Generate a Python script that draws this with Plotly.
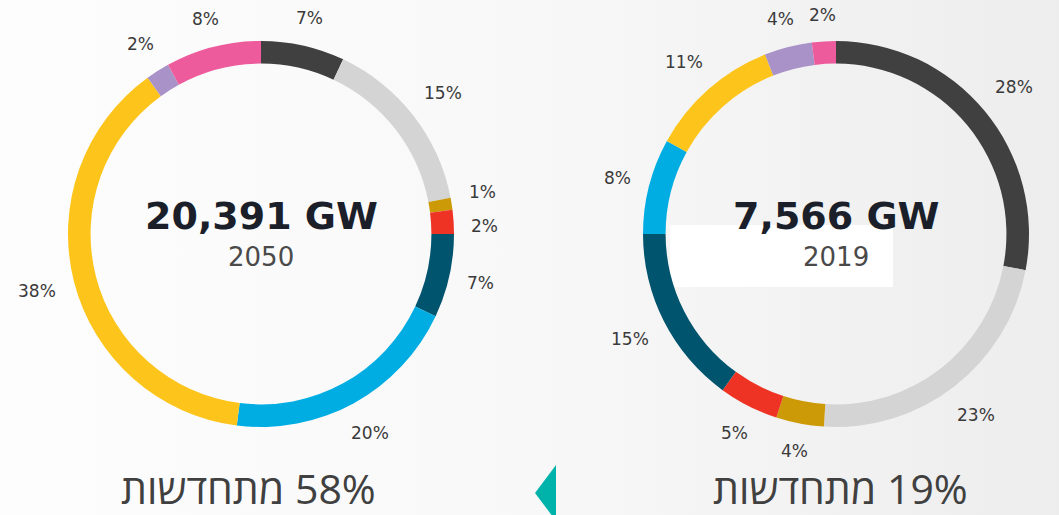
import math
import base64
import plotly.graph_objects as go

# ---------------- data ----------------
categories = ["Coal", "Natural gas", "Oil", "Nuclear", "Hydropower",
              "Wind", "Solar", "Bioenergy", "Other"]
colors = ["#404040", "#d4d4d4", "#cc9a06", "#ee3224", "#00546e",
          "#00ade3", "#fdc51b", "#a992c8", "#ee5b9c"]
values_2050 = [7, 15, 1, 2, 7, 20, 38, 2, 8]
values_2019 = [28, 23, 4, 5, 15, 8, 11, 4, 2]
totals = ["20,391 GW", "7,566 GW"]
years = ["2050", "2019"]
renewable_share = ["58%", "19%"]
renewable_word = "מתחדשות"

# ---------------- layout geometry (pixels) ----------------
W, H = 1059, 515
R = 193
centers = [(261, 234), (836, 234)]
HOLE = 0.883


def px(x):
    return x / W


def py(y):
    return 1 - y / H


fig = go.Figure()
annotations = []

for (cx, cy), vals, tot, yr in zip(centers, [values_2050, values_2019], totals, years):
    fig.add_trace(go.Pie(
        labels=categories, values=vals, sort=False, direction="clockwise",
        rotation=0, hole=HOLE, textinfo="none",
        marker=dict(colors=colors, line=dict(width=0)),
        domain=dict(x=[px(cx - R), px(cx + R)], y=[py(cy + R), py(cy - R)]),
        showlegend=False,
    ))
    # percentage labels outside the ring
    total = sum(vals)
    cum = 0
    pts = []
    for v in vals:
        th = 2 * math.pi * (cum + v / 2) / total
        cum += v
        txt = f"{v}%"
        w = 12.5 * len(txt)
        h = 16
        r = R + 18 + abs(math.sin(th)) * w / 2 + abs(math.cos(th)) * h / 2
        pts.append([cx + r * math.sin(th), cy - r * math.cos(th), txt])
    # simple collision avoidance: push consecutive labels apart vertically
    for i in range(1, len(pts)):
        a, b = pts[i - 1], pts[i]
        if abs(a[0] - b[0]) < 40 and abs(a[1] - b[1]) < 34:
            d = 34 - abs(a[1] - b[1])
            if b[1] >= a[1]:
                a[1] -= d / 2
                b[1] += d / 2
            else:
                a[1] += d / 2
                b[1] -= d / 2
    for lx, ly, txt in pts:
        annotations.append(dict(
            x=px(lx), y=py(ly), xref="paper", yref="paper", text=txt,
            showarrow=False, xanchor="center", yanchor="middle",
            font=dict(family="DejaVu Sans", size=17, color="#3a3a3a")))
    annotations.append(dict(
        x=px(cx), y=py(216), xref="paper", yref="paper", text=f"<b>{tot}</b>",
        showarrow=False, xanchor="center", yanchor="middle",
        font=dict(family="DejaVu Sans", size=38, color="#1b1f2a")))
    annotations.append(dict(
        x=px(cx), y=py(257), xref="paper", yref="paper", text=yr,
        showarrow=False, xanchor="center", yanchor="middle",
        font=dict(family="DejaVu Sans", size=26, color="#4a4a4a")))

# bottom captions (RTL)
for bx, share in zip([248, 840], renewable_share):
    annotations.append(dict(
        x=px(bx), y=py(488), xref="paper", yref="paper",
        text="\u200f" + share + " " + renewable_word,
        showarrow=False, xanchor="center", yanchor="middle", borderpad=0,
        font=dict(family="Open Sans", size=41, color="#404040")))

# background gradient
svg = ("<svg xmlns='http://www.w3.org/2000/svg' width='1059' height='515'>"
       "<defs><linearGradient id='g' x1='0' y1='0' x2='1' y2='0'>"
       "<stop offset='0' stop-color='#fdfdfd'/>"
       "<stop offset='0.5' stop-color='#f8f8f8'/>"
       "<stop offset='1' stop-color='#ededed'/>"
       "</linearGradient></defs>"
       "<rect width='1059' height='515' fill='url(#g)'/></svg>")
src = "data:image/svg+xml;base64," + base64.b64encode(svg.encode()).decode()

shapes = [
    dict(type="rect", xref="paper", yref="paper", layer="below",
         x0=px(670), x1=px(893), y0=py(287), y1=py(225),
         fillcolor="#ffffff", line=dict(width=0)),
    dict(type="path", xref="paper", yref="paper", layer="above",
         path=f"M {px(556)},{py(465)} L {px(535)},{py(493)} L {px(556)},{py(521)} Z",
         fillcolor="#00b3aa", line=dict(width=0)),
]

fig.update_layout(
    width=W, height=H, margin=dict(l=0, r=0, t=0, b=0),
    paper_bgcolor="#f7f7f7", plot_bgcolor="#f7f7f7",
    annotations=annotations, shapes=shapes,
    images=[dict(source=src, xref="paper", yref="paper", x=0, y=1,
                 sizex=1, sizey=1, xanchor="left", yanchor="top",
                 sizing="stretch", layer="below")],
)

fig.write_html("out.html", config={"displayModeBar": False},
               post_script="document.body.style.margin='0';document.body.style.overflow='hidden';")
